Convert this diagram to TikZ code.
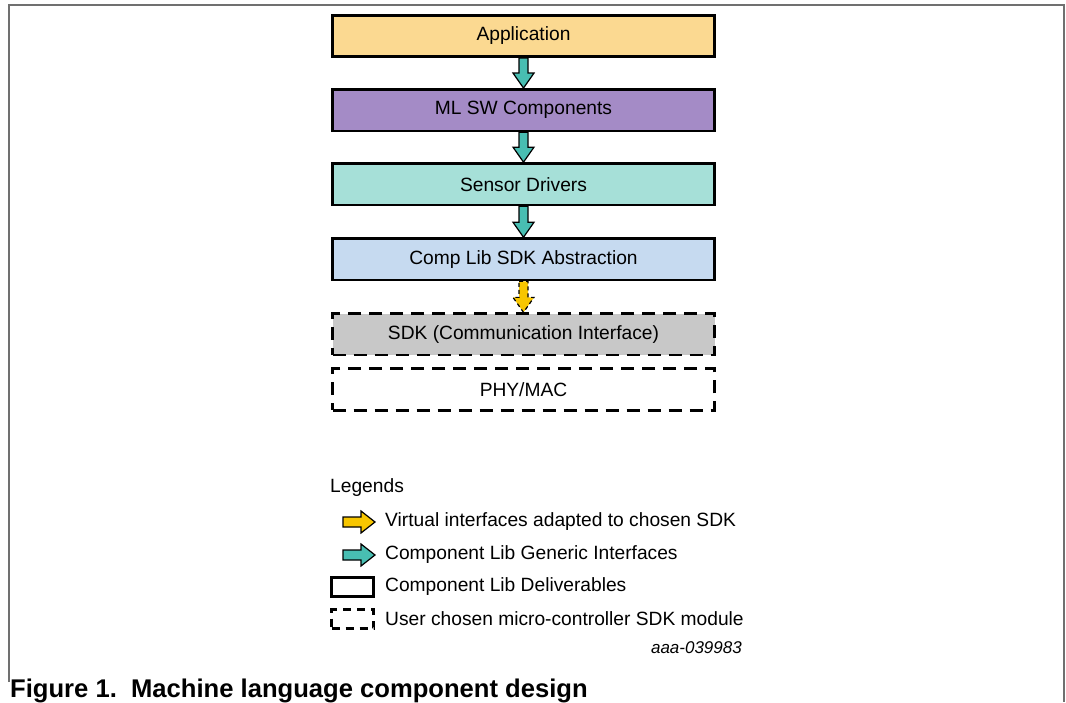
\documentclass[tikz,border=0pt]{standalone}
\usepackage{fontspec}
\setmainfont{Liberation Sans}
\usetikzlibrary{positioning,calc}

\definecolor{appfill}{RGB}{251,217,145}
\definecolor{mlfill}{RGB}{164,139,198}
\definecolor{sensfill}{RGB}{166,224,216}
\definecolor{compfill}{RGB}{198,218,240}
\definecolor{sdkfill}{RGB}{200,200,200}
\definecolor{genteal}{RGB}{72,190,178}
\definecolor{virtyellow}{RGB}{247,198,0}
\definecolor{framegray}{RGB}{112,112,112}

\begin{document}
\begin{tikzpicture}[x=1pt,y=1pt]
                        \tikzstyle{every node}=[inner sep=0,font=\fontsize{19.2}{23}\selectfont]
                        \tikzstyle{layer}=[draw,rectangle,line width=2.6,minimum width=382,minimum height=41.5]
                        \tikzstyle{sdkmod}=[layer,dash pattern=on 13 off 8]
                        \tikzstyle{genarrow}=[draw,line width=1.2,fill=genteal,line join=miter]
                        \tikzstyle{virtarrow}=[genarrow,fill=virtyellow,dash pattern=on 4 off 3]
                        \tikzstyle{note}=[anchor=west]
                        {
                            \useasboundingbox (0,0) rectangle (1066,-702);

                            % page frame
                            \draw[framegray,line width=1.5] (9,-682) -- (9,-5) -- (1064,-5) -- (1064,-702);

                            % layers
                            \node[layer,fill=appfill] (app) at (523.5,-36) {Application};
                            \node[layer,fill=mlfill,below=30 of app] (ml) {ML SW Components};
                            \node[layer,fill=sensfill,below=30 of ml] (sensor) {Sensor Drivers};
                            \node[layer,fill=compfill,below=31 of sensor] (comp) {Comp Lib SDK Abstraction};
                            \node[sdkmod,fill=sdkfill,below=31 of comp] (sdk) {SDK (Communication Interface)};
                            \node[sdkmod,below=11 of sdk] (phy) {PHY/MAC};

                            % interfaces between layers
                            \foreach \a/\b/\s in {app/ml/genarrow,ml/sensor/genarrow,sensor/comp/genarrow,comp/sdk/virtarrow}
                                \draw[\s] let \p1=(\a.south), \p2=(\b.north) in
                                    (\x1-4.5,\y1) -- (\x1+4.5,\y1) -- (\x1+4.5,\y2+15) -- (\x1+10.5,\y2+15)
                                    -- (\x1,\y2) -- (\x1-10.5,\y2+15) -- (\x1-4.5,\y2+15) -- cycle;

                            % legends
                            \node[note] (legends) at (330,-488) {Legends};
                            \node[note] (lvirt) at (385,-522) {Virtual interfaces adapted to chosen SDK};
                            \node[note] (lgen) at (385,-555) {Component Lib Generic Interfaces};
                            \node[note] (ldeliv) at (385,-587) {Component Lib Deliverables};
                            \node[note] (lsdk) at (385,-619) {User chosen micro-controller SDK module};

                            \foreach \l/\s in {lvirt/virtarrow,lgen/genarrow}
                                \draw[\s,solid] let \p1=(\l.west) in
                                    (\x1-42,\y1+5) -- (\x1-24,\y1+5) -- (\x1-24,\y1+11) -- (\x1-10,\y1)
                                    -- (\x1-24,\y1-11) -- (\x1-24,\y1-5) -- (\x1-42,\y1-5) -- cycle;

                            \node[layer,minimum width=42,minimum height=18.5,left=10 of ldeliv] (bdeliv) {};
                            \node[sdkmod,dash pattern=on 8 off 6,minimum width=42,minimum height=19,left=10 of lsdk] (bsdk) {};

                            \node[anchor=east,font=\fontsize{17}{20}\selectfont\itshape] (figid) at (742,-648) {aaa-039983};

                            % caption
                            \node[anchor=base west,font=\fontsize{25.6}{30}\selectfont\bfseries] (caption) at (10,-697) {Figure 1.\ \ Machine language component design};
                        }
                    \end{tikzpicture}
\end{document}
